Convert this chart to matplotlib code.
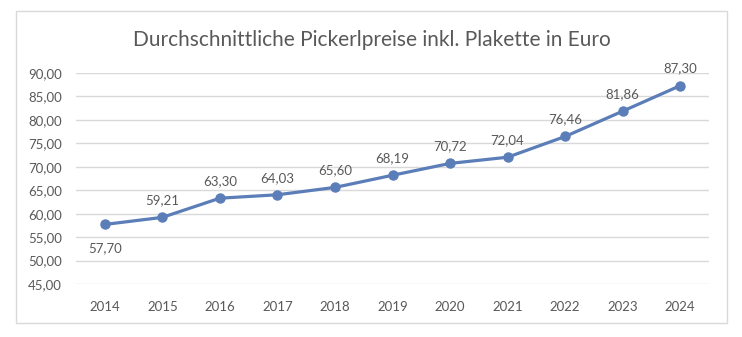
import matplotlib.pyplot as plt
from matplotlib.patches import Rectangle
from matplotlib.ticker import FuncFormatter

years = ["2014", "2015", "2016", "2017", "2018", "2019", "2020", "2021", "2022", "2023", "2024"]
prices = [57.70, 59.21, 63.30, 64.03, 65.60, 68.19, 70.72, 72.04, 76.46, 81.86, 87.30]

plt.rcParams["font.family"] = ["Lato", "DejaVu Sans"]
W, H = 742, 337
line_color = "#5B7DB8"
text_color = "#595959"

fig = plt.figure(figsize=(W / 100, H / 100), dpi=100)
fig.patches.append(Rectangle((16 / W, 1 - 323 / H), (727 - 16) / W, (323 - 11) / H,
                             transform=fig.transFigure, fill=False,
                             edgecolor="#D9D9D9", linewidth=1))

ax = fig.add_axes([76 / W, 1 - 284 / H, (709 - 76) / W, (284 - 73) / H])
x = list(range(len(years)))
ax.plot(x, prices, color=line_color, linewidth=2.3, marker="o", markersize=6.5, zorder=3)

for i, v in enumerate(prices):
    label = f"{v:.2f}".replace(".", ",")
    if i == 0:
        ax.annotate(label, (i, v), xytext=(0, -13), textcoords="offset points",
                    ha="center", va="top", fontsize=9.5, color=text_color)
    else:
        ax.annotate(label, (i, v), xytext=(0, 8), textcoords="offset points",
                    ha="center", va="bottom", fontsize=9.5, color=text_color)

ax.set_xlim(-0.5, len(years) - 0.5)
ax.set_ylim(45, 90)
ax.set_yticks(range(45, 91, 5))
ax.yaxis.set_major_formatter(FuncFormatter(lambda v, p: f"{v:.2f}".replace(".", ",")))
ax.set_xticks(x)
ax.set_xticklabels(years)
ax.tick_params(axis="both", length=0, labelsize=9.5, labelcolor=text_color)
ax.tick_params(axis="x", pad=12)
ax.tick_params(axis="y", pad=10)
ax.grid(axis="y", color="#D9D9D9", linewidth=1)
ax.set_axisbelow(True)
for s in ax.spines.values():
    s.set_visible(False)

fig.text((16 + 727) / 2 / W, 1 - 40 / H, "Durchschnittliche Pickerlpreise inkl. Plakette in Euro",
         ha="center", va="center", fontsize=15, color=text_color)

fig.savefig("out.png", dpi=100)
